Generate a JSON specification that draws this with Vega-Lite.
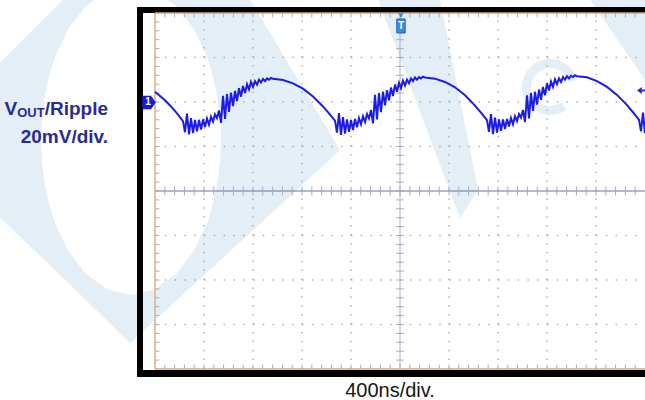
{
  "$schema": "https://vega.github.io/schema/vega-lite/v6.json",
  "width": 645,
  "height": 400,
  "autosize": {"type": "none"},
  "padding": 0,
  "background": "white",
  "config": {"view": {"stroke": null}, "font": "Liberation Sans"},
  "datasets": {
    "trace": [
      {"x":0,"y":2.23},{"x":0.204,"y":2.04},{"x":0.327,"y":1.9},{"x":0.449,"y":1.745},
      {"x":0.571,"y":1.57},{"x":0.612,"y":1.32},{"x":0.653,"y":1.74},{"x":0.694,"y":1.27},{"x":0.735,"y":1.64},{"x":0.776,"y":1.3},{"x":0.816,"y":1.6},{"x":0.857,"y":1.34},{"x":0.898,"y":1.6},{"x":0.939,"y":1.38},{"x":0.98,"y":1.61},{"x":1.02,"y":1.44},{"x":1.061,"y":1.63},{"x":1.102,"y":1.49},{"x":1.143,"y":1.67},{"x":1.184,"y":1.56},{"x":1.224,"y":1.72},{"x":1.265,"y":1.64},{"x":1.306,"y":1.81},{"x":1.347,"y":1.53},{"x":1.388,"y":2.14},{"x":1.429,"y":1.62},{"x":1.469,"y":2.18},{"x":1.51,"y":1.78},{"x":1.551,"y":2.21},{"x":1.592,"y":1.91},{"x":1.633,"y":2.25},{"x":1.673,"y":2.02},{"x":1.714,"y":2.31},{"x":1.755,"y":2.12},{"x":1.796,"y":2.36},{"x":1.837,"y":2.2},{"x":1.878,"y":2.4},{"x":1.918,"y":2.28},{"x":1.959,"y":2.45},{"x":2.0,"y":2.34},{"x":2.041,"y":2.47},{"x":2.082,"y":2.39},{"x":2.122,"y":2.5},{"x":2.163,"y":2.44},{"x":2.204,"y":2.52},{"x":2.245,"y":2.47},{"x":2.286,"y":2.53},{"x":2.327,"y":2.5},{"x":2.367,"y":2.54},{"x":2.408,"y":2.52},{"x":2.612,"y":2.495},{"x":2.816,"y":2.42},{"x":3.02,"y":2.3},{"x":3.224,"y":2.125},{"x":3.429,"y":1.9},{"x":3.551,"y":1.745},
      {"x":3.673,"y":1.58},{"x":3.714,"y":1.31},{"x":3.755,"y":1.75},{"x":3.796,"y":1.26},{"x":3.837,"y":1.66},{"x":3.878,"y":1.29},{"x":3.918,"y":1.61},{"x":3.959,"y":1.33},{"x":4.0,"y":1.59},{"x":4.041,"y":1.37},{"x":4.082,"y":1.62},{"x":4.122,"y":1.43},{"x":4.163,"y":1.64},{"x":4.204,"y":1.5},{"x":4.245,"y":1.68},{"x":4.286,"y":1.55},{"x":4.327,"y":1.73},{"x":4.367,"y":1.63},{"x":4.408,"y":1.82},{"x":4.449,"y":1.52},{"x":4.49,"y":2.16},{"x":4.531,"y":1.61},{"x":4.571,"y":2.2},{"x":4.612,"y":1.77},{"x":4.653,"y":2.23},{"x":4.694,"y":1.925},{"x":4.735,"y":2.265},{"x":4.776,"y":2.035},{"x":4.816,"y":2.325},{"x":4.857,"y":2.135},{"x":4.898,"y":2.39},{"x":4.939,"y":2.23},{"x":4.98,"y":2.43},{"x":5.02,"y":2.31},{"x":5.061,"y":2.48},{"x":5.102,"y":2.37},{"x":5.143,"y":2.5},{"x":5.184,"y":2.42},{"x":5.224,"y":2.53},{"x":5.265,"y":2.47},{"x":5.306,"y":2.55},{"x":5.347,"y":2.5},{"x":5.388,"y":2.56},{"x":5.429,"y":2.53},{"x":5.469,"y":2.57},{"x":5.51,"y":2.55},{"x":5.714,"y":2.525},{"x":5.918,"y":2.45},{"x":6.122,"y":2.33},{"x":6.327,"y":2.15},{"x":6.531,"y":1.92},{"x":6.653,"y":1.76},
      {"x":6.776,"y":1.59},{"x":6.816,"y":1.33},{"x":6.857,"y":1.73},{"x":6.898,"y":1.28},{"x":6.939,"y":1.65},{"x":6.98,"y":1.31},{"x":7.02,"y":1.61},{"x":7.061,"y":1.35},{"x":7.102,"y":1.61},{"x":7.143,"y":1.39},{"x":7.184,"y":1.62},{"x":7.224,"y":1.45},{"x":7.265,"y":1.64},{"x":7.306,"y":1.5},{"x":7.347,"y":1.68},{"x":7.388,"y":1.57},{"x":7.429,"y":1.73},{"x":7.469,"y":1.65},{"x":7.51,"y":1.82},{"x":7.551,"y":1.55},{"x":7.592,"y":2.15},{"x":7.633,"y":1.63},{"x":7.673,"y":2.2},{"x":7.714,"y":1.8},{"x":7.755,"y":2.23},{"x":7.796,"y":1.94},{"x":7.837,"y":2.28},{"x":7.878,"y":2.05},{"x":7.918,"y":2.34},{"x":7.959,"y":2.15},{"x":8.0,"y":2.42},{"x":8.041,"y":2.26},{"x":8.082,"y":2.46},{"x":8.122,"y":2.34},{"x":8.163,"y":2.51},{"x":8.204,"y":2.4},{"x":8.245,"y":2.53},{"x":8.286,"y":2.45},{"x":8.327,"y":2.56},{"x":8.367,"y":2.5},{"x":8.408,"y":2.58},{"x":8.449,"y":2.53},{"x":8.49,"y":2.59},{"x":8.531,"y":2.56},{"x":8.571,"y":2.6},{"x":8.612,"y":2.58},{"x":8.816,"y":2.555},{"x":9.02,"y":2.47},{"x":9.224,"y":2.34},{"x":9.429,"y":2.16},{"x":9.633,"y":1.93},{"x":9.755,"y":1.77},
      {"x":9.878,"y":1.6},{"x":9.918,"y":1.34},{"x":9.959,"y":1.76},{"x":10.0,"y":1.3}
    ],
    "xticks": [
      {"v":[0.2,0.4,0.6,0.8,1,1.2,1.4,1.6,1.8,2,2.2,2.4,2.6,2.8,3,3.2,3.4,3.6,3.8,4,4.2,4.4,4.6,4.8,5,5.2,5.4,5.6,5.8,6,6.2,6.4,6.6,6.8,7,7.2,7.4,7.6,7.8,8,8.2,8.4,8.6,8.8,9,9.2,9.4,9.6,9.8],"y":-0.1,"y2":0.1},
      {"v":[0.2,0.4,0.6,0.8,1,1.2,1.4,1.6,1.8,2,2.2,2.4,2.6,2.8,3,3.2,3.4,3.6,3.8,4,4.2,4.4,4.6,4.8,5,5.2,5.4,5.6,5.8,6,6.2,6.4,6.6,6.8,7,7.2,7.4,7.6,7.8,8,8.2,8.4,8.6,8.8,9,9.2,9.4,9.6,9.8],"y":4,"y2":3.9},
      {"v":[0.2,0.4,0.6,0.8,1,1.2,1.4,1.6,1.8,2,2.2,2.4,2.6,2.8,3,3.2,3.4,3.6,3.8,4,4.2,4.4,4.6,4.8,5,5.2,5.4,5.6,5.8,6,6.2,6.4,6.6,6.8,7,7.2,7.4,7.6,7.8,8,8.2,8.4,8.6,8.8,9,9.2,9.4,9.6,9.8],"y":-4,"y2":-3.9}
    ],
    "yticks": [
      {"v":[-3.8,-3.6,-3.4,-3.2,-3,-2.8,-2.6,-2.4,-2.2,-2,-1.8,-1.6,-1.4,-1.2,-1,-0.8,-0.6,-0.4,-0.2,0,0.2,0.4,0.6,0.8,1,1.2,1.4,1.6,1.8,2,2.2,2.4,2.6,2.8,3,3.2,3.4,3.6,3.8],"x":4.92,"x2":5.08},
      {"v":[-3.8,-3.6,-3.4,-3.2,-3,-2.8,-2.6,-2.4,-2.2,-2,-1.8,-1.6,-1.4,-1.2,-1,-0.8,-0.6,-0.4,-0.2,0,0.2,0.4,0.6,0.8,1,1.2,1.4,1.6,1.8,2,2.2,2.4,2.6,2.8,3,3.2,3.4,3.6,3.8],"x":0,"x2":0.09}
    ]
  },
  "encoding": {
    "x": {"field": "x", "type": "quantitative", "scale": {"domain": [-3.1633, 10], "nice": false, "zero": false}, "axis": null},
    "y": {"field": "y", "type": "quantitative", "scale": {"domain": [-4.6966, 4.2921], "nice": false, "zero": false}, "axis": null}
  },
  "layer": [
    {
      "data": {"values": [{"x":-3.17,"y":2.876,"y2":-0.584},{"x":-1.878,"y":4.3,"y2":-1.955},{"x":-0.51,"y":4.3,"y2":-3.416},{"x":1.939,"y":4.3,"y2":-0.944},{"x":3.776,"y":0.921,"y2":0.921}]},
      "mark": {"type": "area", "color": "#e3eef7"},
      "encoding": {"y2": {"field": "y2"}}
    },
    {
      "data": {"values": [{"x":4.551,"y":4.3,"y2":4.3},{"x":5.816,"y":4.3,"y2":0.589},{"x":6.224,"y":2.045,"y2":-0.607},{"x":6.592,"y":0.022,"y2":0.022}]},
      "mark": {"type": "area", "color": "#e3eef7"},
      "encoding": {"y2": {"field": "y2"}}
    },
    {
      "data": {"values": [{"x":8.878,"y":4.3,"y2":4.3},{"x":10,"y":4.3,"y2":2.494}]},
      "mark": {"type": "area", "color": "#e3eef7"},
      "encoding": {"y2": {"field": "y2"}}
    },
    {
      "data": {"values": [{"x":-2.327,"y":1.146,"y2":1.146},{"x":-2.309,"y":1.637,"y2":0.655},{"x":-2.235,"y":2.234,"y2":0.058},{"x":-2.143,"y":2.664,"y2":-0.372},{"x":-2.051,"y":2.981,"y2":-0.689},{"x":-1.776,"y":3.633,"y2":-1.341},{"x":-1.408,"y":4.162,"y2":-1.87},{"x":-0.949,"y":4.518,"y2":-2.226},{"x":-0.49,"y":4.629,"y2":-2.337},{"x":-0.031,"y":4.518,"y2":-2.226},{"x":0.428,"y":4.162,"y2":-1.87},{"x":0.796,"y":3.633,"y2":-1.341},{"x":1.071,"y":2.981,"y2":-0.689},{"x":1.163,"y":2.664,"y2":-0.372},{"x":1.255,"y":2.234,"y2":0.058},{"x":1.329,"y":1.637,"y2":0.655},{"x":1.347,"y":1.146,"y2":1.146}]},
      "mark": {"type": "area", "color": "white"},
      "encoding": {"y2": {"field": "y2"}}
    },
    {
      "data": {"values": [{"x":8.061,"y":2.337}]},
      "mark": {"type": "arc", "color": "#e3eef7", "radius": 28, "radius2": 19, "theta": 2.5, "theta2": 7.6}
    },
    {
      "data": {"values": [{"x":-0.367,"x2":-0.245,"y":4.135,"y2":-4.18},{"x":-0.367,"x2":10.1,"y":4.135,"y2":4.0},{"x":-0.367,"x2":10.1,"y":-4.022,"y2":-4.18}]},
      "mark": {"type": "rect", "color": "black"},
      "encoding": {"x2": {"field": "x2"}, "y2": {"field": "y2"}}
    },
    {
      "data": {"values": [{"x":1,"y":-4,"y2":4},{"x":2,"y":-4,"y2":4},{"x":3,"y":-4,"y2":4},{"x":4,"y":-4,"y2":4},{"x":6,"y":-4,"y2":4},{"x":7,"y":-4,"y2":4},{"x":8,"y":-4,"y2":4},{"x":9,"y":-4,"y2":4}]},
      "mark": {"type": "rule", "color": "#b0b0b0", "strokeWidth": 1.5, "strokeDash": [1.5, 7.4]},
      "encoding": {"y2": {"field": "y2"}}
    },
    {
      "data": {"values": [{"x":0,"x2":10,"y":-3},{"x":0,"x2":10,"y":-2},{"x":0,"x2":10,"y":-1},{"x":0,"x2":10,"y":1},{"x":0,"x2":10,"y":2},{"x":0,"x2":10,"y":3}]},
      "mark": {"type": "rule", "color": "#b0b0b0", "strokeWidth": 1.5, "strokeDash": [1.5, 8.3]},
      "encoding": {"x2": {"field": "x2"}}
    },
    {
      "data": {"values": [{"x":5,"y":-4,"y2":4}]},
      "mark": {"type": "rule", "color": "#aab0c6", "strokeWidth": 1},
      "encoding": {"y2": {"field": "y2"}}
    },
    {
      "data": {"values": [{"x":0,"x2":10,"y":0}]},
      "mark": {"type": "rule", "color": "#6b7291", "strokeWidth": 1.2},
      "encoding": {"x2": {"field": "x2"}}
    },
    {
      "data": {"name": "xticks"},
      "transform": [{"flatten": ["v"], "as": ["x"]}],
      "mark": {"type": "rule", "color": "#a8acc0", "strokeWidth": 1},
      "encoding": {"y2": {"field": "y2"}}
    },
    {
      "data": {"name": "yticks"},
      "transform": [{"flatten": ["v"], "as": ["y"]}],
      "mark": {"type": "rule", "color": "#a8acc0", "strokeWidth": 1},
      "encoding": {"x2": {"field": "x2"}}
    },
    {
      "data": {"values": [{"x":0,"y":-4,"y2":4}]},
      "mark": {"type": "rule", "color": "#d6b08a", "strokeWidth": 1.5},
      "encoding": {"y2": {"field": "y2"}}
    },
    {
      "data": {"values": [{"x":0,"x2":10,"y":4},{"x":0,"x2":10,"y":-4}]},
      "mark": {"type": "rule", "color": "#d6a878", "strokeWidth": 1.5},
      "encoding": {"x2": {"field": "x2"}}
    },
    {
      "data": {"name": "trace"},
      "mark": {"type": "line", "color": "#1c1ce6", "strokeWidth": 2}
    },
    {
      "data": {"values": [{"x":-0.122,"y":1.989}]},
      "mark": {"type": "point", "shape": "M-1,-1L0.3,-1L1,0L0.3,1L-1,1Z", "filled": true, "color": "#1a1ad8", "size": 180, "opacity": 1}
    },
    {
      "data": {"values": [{"x":-0.122,"y":1.989,"t":"1"}]},
      "mark": {"type": "text", "color": "white", "fontSize": 10, "fontWeight": "bold", "align": "center", "baseline": "middle", "dx": -1},
      "encoding": {"text": {"field": "t"}}
    },
    {
      "data": {"values": [{"x":5.02,"y":3.94}]},
      "mark": {"type": "point", "shape": "triangle-down", "filled": true, "color": "#3d8be0", "size": 30, "opacity": 1}
    },
    {
      "data": {"values": [{"x":5.02,"y":3.708}]},
      "mark": {"type": "point", "shape": "M-0.6,-1L0.6,-1L0.6,1L-0.6,1Z", "filled": true, "color": "#3d8be0", "stroke": "#2a62b4", "strokeWidth": 1, "size": 196, "opacity": 1}
    },
    {
      "data": {"values": [{"x":5.02,"y":3.708,"t":"T"}]},
      "mark": {"type": "text", "color": "white", "fontSize": 10, "fontWeight": "bold", "align": "center", "baseline": "middle"},
      "encoding": {"text": {"field": "t"}}
    },
    {
      "data": {"values": [{"x":9.959,"y":2.258}]},
      "mark": {"type": "point", "shape": "M-1,0L-0.2,-0.6L-0.2,-0.15L1,-0.15L1,0.15L-0.2,0.15L-0.2,0.6Z", "filled": true, "color": "#2b2bd6", "size": 144, "opacity": 1}
    },
    {
      "data": {"values": [{"x":-2.81,"y":1.719,"t":"V"},{"x":-0.959,"y":1.719,"t":"/Ripple"},{"x":-0.959,"y":1.072,"t":"20mV/div."}]},
      "mark": {"type": "text", "color": "#2b2b95", "fontSize": 19, "fontWeight": "bold", "align": "right", "baseline": "alphabetic"},
      "encoding": {"text": {"field": "t"}}
    },
    {
      "data": {"values": [{"x":-2.251,"y":1.652,"t":"OUT"}]},
      "mark": {"type": "text", "color": "#2b2b95", "fontSize": 13, "fontWeight": "bold", "align": "right", "baseline": "alphabetic"},
      "encoding": {"text": {"field": "t"}}
    },
    {
      "data": {"values": [{"x":4.796,"y":-4.618,"t":"400ns/div."}]},
      "mark": {"type": "text", "color": "#151515", "fontSize": 20, "align": "center", "baseline": "alphabetic"},
      "encoding": {"text": {"field": "t"}}
    }
  ]
}
